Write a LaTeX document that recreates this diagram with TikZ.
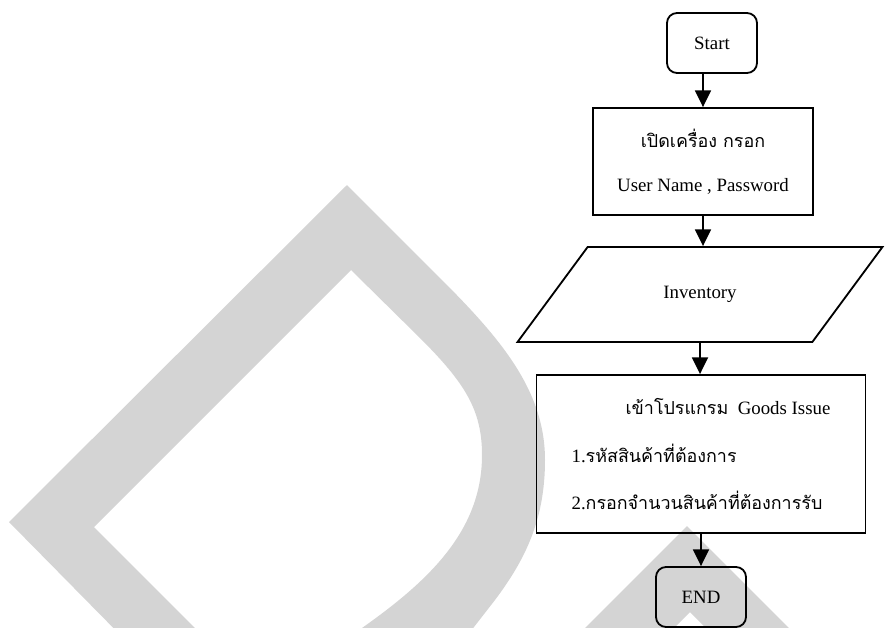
\documentclass[tikz,border=0pt]{standalone}
\usepackage{fontspec}
\setmainfont{Liberation Serif}
\newfontfamily\thaifont[Script=Thai,Scale=0.95]{Loma}
\usetikzlibrary{arrows.meta,shapes.geometric}
\definecolor{markgray}{HTML}{D4D4D4}

\begin{document}
\begin{tikzpicture}[
  font=\fontsize{13.4}{16}\selectfont,
  term/.style={draw,rounded corners=0.25cm,minimum width=2.25cm,minimum height=1.5cm,line width=1.3pt},
  proc/.style={draw,line width=1.3pt},
  io/.style={draw,trapezium,trapezium left angle=45,trapezium right angle=135,
    trapezium stretches=true,line width=1.3pt},
  arr/.style={-{Triangle[width=0.4cm,length=0.42cm]},line width=1.3pt}
]
\useasboundingbox (0,0) rectangle (22.125,-15.7);

% big grey letters behind the chart
\begin{scope}
\clip (0,0) rectangle (22.125,-15.7);
\fill[markgray] (3.5,-16.375) -- (0.225,-13.05) -- (8.675,-4.625) -- (11,-6.95)
  .. controls (12.5,-8.45) and (13.625,-9.75) .. (13.625,-11.5)
  .. controls (13.625,-13) and (13.125,-14) .. (12.375,-15)
  -- (11.5,-16.125) -- (8.375,-16.375) -- (9.05,-15.7)
  .. controls (10.75,-14.5) and (12.05,-13.25) .. (12.05,-11.375)
  .. controls (12.05,-10.25) and (11.625,-9.575) .. (10.5,-8.45)
  -- (8.775,-6.75) -- (2.35,-13.175) -- (5.625,-16.45) -- cycle;
\fill[markgray] (14.25,-16.075) -- (17.175,-13.15) -- (20.125,-16.1)
  -- (18.05,-16.1) -- (17.25,-15.3) -- (16.45,-16.1) -- cycle;
\end{scope}

% flow chart
\node[term] (start) at (17.8,-1.075) {Start};
\node[proc,minimum width=5.5cm,minimum height=2.675cm,align=center] (login) at (17.575,-4.0375)
  {{\thaifont เปิดเครื่อง กรอก}\\[0.55cm] User Name , Password};
\node[io,minimum width=9.2cm,minimum height=2.375cm] (inv) at (17.5,-7.3625) {Inventory};
\node[proc,minimum width=8.225cm,minimum height=3.95cm,align=left] (issue) at (17.525,-11.35)
  {\hspace*{1.35cm}{\thaifont เข้าโปรแกรม}\ \ Goods Issue\\[0.64cm]
   1.{\thaifont รหัสสินค้าที่ต้องการ}\\[0.6cm]
   2.{\thaifont กรอกจำนวนสินค้าที่ต้องการรับ}};
\node[term] (end) at (17.525,-14.925) {END};

\draw[arr] (start.south -| login.north) -- (login.north);
\draw[arr] (login.south) -- (login.south |- inv.north);
\draw[arr] (inv.south) -- (inv.south |- issue.north);
\draw[arr] (issue.south) -- (end.north);
\end{tikzpicture}
\end{document}
